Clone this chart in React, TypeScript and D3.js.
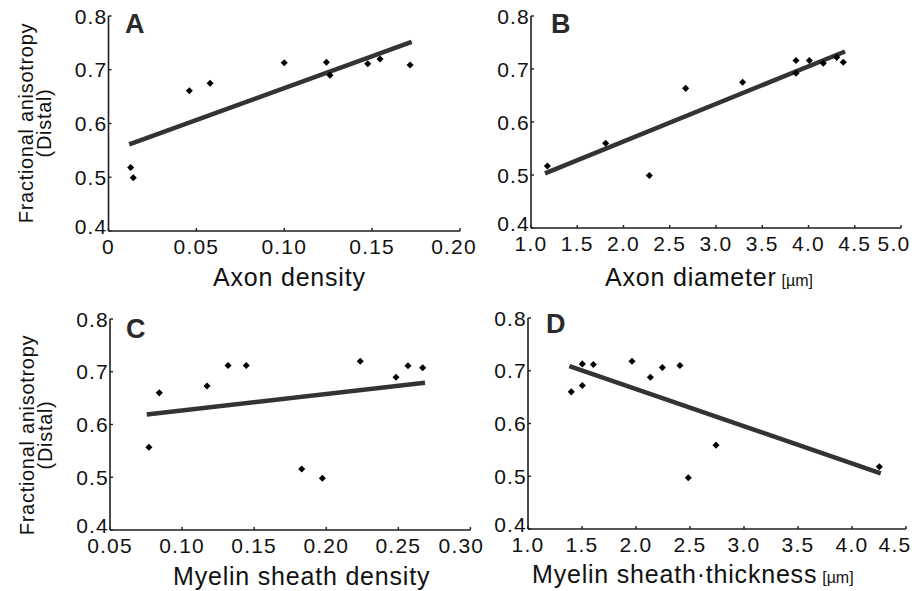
import React from "react";
import * as d3 from "d3";

// ---------- DATA ----------
const yTicks = [0.4, 0.5, 0.6, 0.7, 0.8];
const yTickLabels = ["0.4", "0.5", "0.6", "0.7", "0.8"];

const axonDensityX = [0.0126, 0.0141, 0.046, 0.0578, 0.1, 0.124, 0.126, 0.1475, 0.1545, 0.1716];
const axonDensityFA = [0.518, 0.499, 0.661, 0.675, 0.713, 0.714, 0.69, 0.711, 0.72, 0.709];
const axonDensityFit = [[0.0118, 0.561], [0.1725, 0.752]];
const axonDensityTicks = [0, 0.05, 0.1, 0.15, 0.2];
const axonDensityTickLabels = ["0", "0.05", "0.10", "0.15", "0.20"];

const axonDiameterX = [1.177, 1.807, 2.279, 2.672, 3.288, 3.865, 3.865, 4.009, 4.16, 4.305, 4.376];
const axonDiameterFA = [0.517, 0.56, 0.499, 0.6635, 0.675, 0.716, 0.692, 0.716, 0.711, 0.722, 0.7126];
const axonDiameterFit = [[1.151, 0.503], [4.395, 0.733]];
const axonDiameterTicks = [1.0, 1.5, 2.0, 2.5, 3.0, 3.5, 4.0, 4.5, 5.0];
const axonDiameterTickLabels = ["1.0", "1.5", "2.0", "2.5", "3.0", "3.5", "4.0", "4.5", "5.0"];

const myelinDensityX = [0.077, 0.0842, 0.1173, 0.1319, 0.1445, 0.183, 0.1973, 0.2236, 0.2484, 0.2567, 0.2669];
const myelinDensityFA = [0.557, 0.66, 0.673, 0.712, 0.712, 0.5156, 0.498, 0.72, 0.6895, 0.7115, 0.7077];
const myelinDensityFit = [[0.0755, 0.619], [0.2685, 0.679]];
const myelinDensityTicks = [0.05, 0.1, 0.15, 0.2, 0.25, 0.3];
const myelinDensityTickLabels = ["0.05", "0.10", "0.15", "0.20", "0.25", "0.30"];

const myelinThicknessX = [1.401, 1.503, 1.503, 1.605, 1.963, 2.133, 2.244, 2.407, 2.484, 2.741, 4.253];
const myelinThicknessFA = [0.66, 0.713, 0.672, 0.712, 0.718, 0.6876, 0.706, 0.71, 0.497, 0.559, 0.518];
const myelinThicknessFit = [[1.383, 0.709], [4.266, 0.5056]];
const myelinThicknessTicks = [1.0, 1.5, 2.0, 2.5, 3.0, 3.5, 4.0, 4.5];
const myelinThicknessTickLabels = ["1.0", "1.5", "2.0", "2.5", "3.0", "3.5", "4.0", "4.5"];

const FONT = "'Liberation Sans', Arial, Helvetica, sans-serif";

type PanelProps = {
  letter: string;
  xs: number[];
  ys: number[];
  fit: number[][];
  xTicks: number[];
  xTickLabels: string[];
  xRange: [number, number];
  yRange: [number, number];
  lastShift: number;
  letterPos: [number, number];
  xTitle: string;
  xUnit?: string;
  xTitlePos: [number, number];
  yTitle?: { cy: number; x1: number; x2: number };
};

function Panel(p: PanelProps) {
  const xDomain: [number, number] = [p.xTicks[0], p.xTicks[p.xTicks.length - 1]];
  const x = d3.scaleLinear().domain(xDomain).range(p.xRange);
  const y = d3.scaleLinear().domain([0.4, 0.8]).range(p.yRange);
  const line = d3.line<number[]>().x((d) => x(d[0])).y((d) => y(d[1]));
  const diamond = d3.symbol(d3.symbolSquare, 25)()!;
  const x0 = p.xRange[0];
  const yBase = p.yRange[0];
  const axisColor = "#1e1e1e";
  return (
    <g>
      {/* axes */}
      <line x1={x0} x2={x0} y1={y(0.8)} y2={yBase} stroke={axisColor} strokeWidth={1.6} />
      <line x1={x0} x2={p.xRange[1]} y1={yBase} y2={yBase} stroke={axisColor} strokeWidth={1.6} />
      {yTicks.map((t, i) => (
        <g key={"y" + i}>
          <line x1={x0} x2={x0 + 3} y1={y(t)} y2={y(t)} stroke={axisColor} strokeWidth={1.4} />
          <text
            x={x0 - 1}
            y={y(t) - (i === 0 ? 5 : 0)}
            dy="0.36em"
            textAnchor="end"
            fontFamily={FONT}
            fontSize={21}
            letterSpacing={1.2}
            fill="#111"
          >
            {yTickLabels[i]}
          </text>
        </g>
      ))}
      {p.xTicks.map((t, i) => {
        const last = i === p.xTicks.length - 1;
        return (
          <g key={"x" + i}>
            <line x1={x(t)} x2={x(t)} y1={yBase} y2={yBase - 3} stroke={axisColor} strokeWidth={1.4} />
            <text
              x={last ? x(t) + p.lastShift : x(t)}
              y={yBase + 23}
              textAnchor="middle"
              fontFamily={FONT}
              fontSize={21}
              letterSpacing={1.2}
              fill="#111"
            >
              {p.xTickLabels[i]}
            </text>
          </g>
        );
      })}
      {/* fit line */}
      <path d={line(p.fit) || ""} fill="none" stroke="#333" strokeWidth={4.5} />
      {/* points */}
      {p.xs.map((v, i) => (
        <path
          key={"p" + i}
          d={diamond}
          transform={`translate(${x(v)},${y(p.ys[i])}) rotate(45)`}
          fill="#000"
        />
      ))}
      {/* panel letter */}
      <text
        x={p.letterPos[0]}
        y={p.letterPos[1]}
        fontFamily={FONT}
        fontWeight="bold"
        fontSize={27}
        fill="#2a2a2a"
      >
        {p.letter}
      </text>
      {/* x title */}
      <text x={p.xTitlePos[0]} y={p.xTitlePos[1]} fontFamily={FONT} fontSize={25} letterSpacing={0.8} fill="#111">
        {p.xTitle}
        {p.xUnit ? (
          <tspan fontSize={16} letterSpacing={0} dx={5}>
            {p.xUnit}
          </tspan>
        ) : null}
      </text>
      {/* y title */}
      {p.yTitle ? (
        <g>
          <text
            transform={`translate(${p.yTitle.x1},${p.yTitle.cy}) rotate(-90)`}
            textAnchor="middle"
            fontFamily={FONT}
            fontSize={20}
            letterSpacing={0.7}
            fill="#111"
          >
            Fractional anisotropy
          </text>
          <text
            transform={`translate(${p.yTitle.x2},${p.yTitle.cy}) rotate(-90)`}
            textAnchor="middle"
            fontFamily={FONT}
            fontSize={20}
            letterSpacing={0.7}
            fill="#111"
          >
            (Distal)
          </text>
        </g>
      ) : null}
    </g>
  );
}

export default function App() {
  return (
    <svg
      width={915}
      height={591}
      style={{ position: "absolute", left: 0, top: 0, background: "#fff" }}
    >
      <rect width={915} height={591} fill="#fff" />
      <Panel
        letter="A"
        xs={axonDensityX}
        ys={axonDensityFA}
        fit={axonDensityFit}
        xTicks={axonDensityTicks}
        xTickLabels={axonDensityTickLabels}
        xRange={[108.5, 460]}
        yRange={[231, 16]}
        lastShift={-6}
        letterPos={[125, 33]}
        xTitle="Axon density"
        xTitlePos={[213, 286]}
        yTitle={{ cy: 123, x1: 33, x2: 51 }}
      />
      <Panel
        letter="B"
        xs={axonDiameterX}
        ys={axonDiameterFA}
        fit={axonDiameterFit}
        xTicks={axonDiameterTicks}
        xTickLabels={axonDiameterTickLabels}
        xRange={[531, 901]}
        yRange={[228, 16]}
        lastShift={-7}
        letterPos={[551, 33]}
        xTitle="Axon diameter"
        xUnit="[µm]"
        xTitlePos={[605, 286]}
      />
      <Panel
        letter="C"
        xs={myelinDensityX}
        ys={myelinDensityFA}
        fit={myelinDensityFit}
        xTicks={myelinDensityTicks}
        xTickLabels={myelinDensityTickLabels}
        xRange={[110, 470.4]}
        yRange={[530, 319]}
        lastShift={-9}
        letterPos={[126, 338]}
        xTitle="Myelin sheath density"
        xTitlePos={[173, 585]}
        yTitle={{ cy: 435, x1: 34, x2: 52 }}
      />
      <Panel
        letter="D"
        xs={myelinThicknessX}
        ys={myelinThicknessFA}
        fit={myelinThicknessFit}
        xTicks={myelinThicknessTicks}
        xTickLabels={myelinThicknessTickLabels}
        xRange={[528, 906]}
        yRange={[529, 318]}
        lastShift={-11}
        letterPos={[546, 333]}
        xTitle="Myelin sheath·thickness"
        xUnit="[µm]"
        xTitlePos={[532, 583]}
      />
    </svg>
  );
}
